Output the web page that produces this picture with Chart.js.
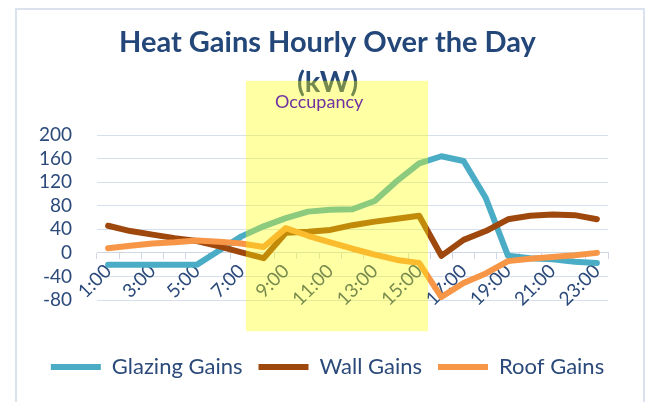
<!DOCTYPE html>
<html>
<head>
<meta charset="utf-8">
<script src="https://cdn.jsdelivr.net/npm/chart.js@4.4.1/dist/chart.umd.min.js"></script>
<style>
    html, body { margin: 0; padding: 0; background: #fff; }
    #wrap { position: relative; width: 655px; height: 402px; overflow: hidden; }
    #frame { position: absolute; left: 15px; top: 8px; width: 626px; height: 420px; border: 2px solid #dbe2ed; }
    #myChart { position: absolute; left: 0; top: 0; }
</style>
</head>
<body>
<div id="wrap">
    <div id="frame"></div>
    <canvas id="myChart" width="655" height="402"></canvas>
</div>
<script>
const hours = ['1:00', '2:00', '3:00', '4:00', '5:00', '6:00', '7:00', '8:00', '9:00', '10:00', '11:00', '12:00',
    '13:00', '14:00', '15:00', '16:00', '17:00', '18:00', '19:00', '20:00', '21:00', '22:00', '23:00']
const glazingGains = [-20, -20, -20, -20, -20, 4, 28, 45, 59, 70, 73, 74, 88, 122, 152, 164, 156, 93, -5, -9, -11, -15, -17]
const wallGains = [46, 37, 31, 25, 20, 11, 1, -9, 34, 36, 39, 47, 53, 58, 63, -5, 22, 37, 57, 63, 65, 64, 57]
const roofGains = [8, 12, 16, 18, 21, 19, 16, 10, 42, 29, 18, 7, -3, -12, -17, -75, -51, -35, -14, -10, -7, -4, 0]
const yTicks = [-80, -40, 0, 40, 80, 120, 160, 200]

// occupancy band, in category index / kW units
const occupancyFrom = 6.2
const occupancyTo = 14.4
const occupancyLabel = 'Occupancy'

Chart.defaults.font.family = 'Lato'

const occupancyBand = {
    id: 'occupancyBand',
    afterDraw(chart) {
        const {ctx, scales: {x, y}} = chart
        const left = x.getPixelForValue(occupancyFrom)
        const right = x.getPixelForValue(occupancyTo)
        const top = y.getPixelForValue(292)
        const bottom = y.getPixelForValue(-133)
        ctx.save()
        ctx.fillStyle = 'rgba(255, 255, 0, 0.36)'
        ctx.fillRect(left, top, right - left, bottom - top)
        ctx.fillStyle = '#7030a0'
        ctx.font = '18px Lato'
        ctx.textAlign = 'center'
        ctx.textBaseline = 'middle'
        ctx.fillText(occupancyLabel, x.getPixelForValue(9.5), y.getPixelForValue(256))
        ctx.restore()
    }
}

const lineInfo = {
    xAxisID: 'x',
    yAxisID: 'y',
    borderWidth: 6,
    pointRadius: 0,
    tension: 0,
    borderJoinStyle: 'round',
    borderCapStyle: 'round',
    fill: false
}

const ctx = document.getElementById('myChart')
new Chart(ctx, {
    type: 'line',
    data: {
        labels: hours,
        datasets: [
            {label: 'Glazing Gains', data: glazingGains, borderColor: '#4bacc6', backgroundColor: '#4bacc6', order: 3, ...lineInfo},
            {label: 'Wall Gains', data: wallGains, borderColor: '#9e480e', backgroundColor: '#9e480e', order: 2, ...lineInfo},
            {label: 'Roof Gains', data: roofGains, borderColor: '#f79646', backgroundColor: '#f79646', order: 1, ...lineInfo},
        ]
    },
    options: {
        responsive: false,
        animation: false,
        layout: {padding: {top: 10, right: 20, bottom: 14, left: 20}},
        plugins: {
            title: {
                display: true,
                text: ['Heat Gains Hourly Over the Day', '(kW)'],
                color: '#24477a',
                font: {size: 29, weight: 'bold', lineHeight: 1.38},
                padding: {top: 13, bottom: 32}
            },
            legend: {
                position: 'bottom',
                labels: {
                    usePointStyle: true,
                    pointStyle: 'line',
                    pointStyleWidth: 50,
                    color: '#2b4a7a',
                    font: {size: 22},
                    padding: 16,
                    sort: (a, b) => a.datasetIndex - b.datasetIndex
                }
            },
            tooltip: {enabled: false}
        },
        scales: {
            x: {
                position: {y: 0},
                z: 1,
                offset: true,
                grid: {display: true, drawOnChartArea: false, offset: true, tickLength: 6, color: '#d0d8e6'},
                border: {display: true, color: '#d0d8e6'},
                ticks: {
                    autoSkip: false,
                    minRotation: 45,
                    maxRotation: 45,
                    padding: 1,
                    color: '#2b4a7a',
                    font: {size: 19},
                    callback: (v, i) => i % 2 === 0 ? hours[i] : ''
                }
            },
            // empty axes that only keep room round the plot
            xSpace: {
                type: 'category',
                position: 'bottom',
                grid: {display: false},
                border: {display: false},
                ticks: {display: false},
                afterFit: s => { s.height = 40 }
            },
            ySpace: {
                type: 'linear',
                position: 'right',
                grid: {display: false},
                border: {display: false},
                ticks: {display: false},
                afterFit: s => { s.width = 27 }
            },
            y: {
                min: -80,
                max: 200,
                afterBuildTicks: s => { s.ticks = yTicks.map(v => ({value: v})) },
                grid: {color: '#d7dfec', drawTicks: false},
                border: {display: false},
                ticks: {autoSkip: false, padding: 25, color: '#2b4a7a', font: {size: 19}},
                afterFit: s => { s.width = 77 }
            }
        }
    },
    plugins: [occupancyBand]
})
</script>
</body>
</html>
